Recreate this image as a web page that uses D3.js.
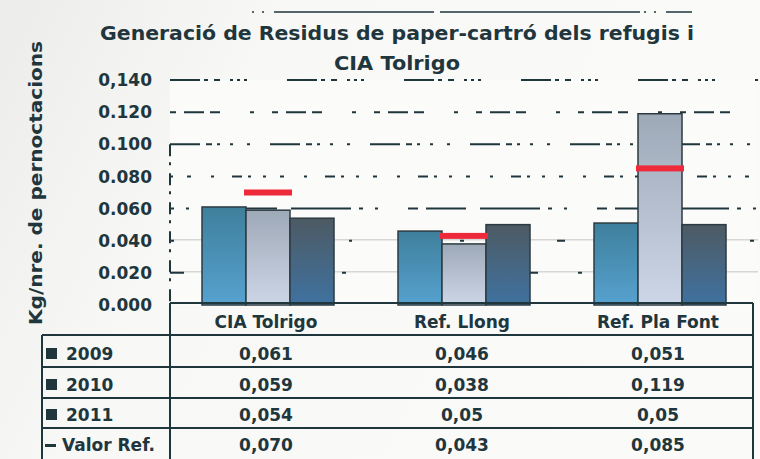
<!DOCTYPE html>
<html><head><meta charset="utf-8">
<script src="https://cdn.jsdelivr.net/npm/d3@7"></script>
<style>
html,body{margin:0;padding:0;background:#f8f8f6;}
svg{display:block;font-family:"DejaVu Sans",Verdana,sans-serif;}
</style></head>
<body><svg id="c" width="760" height="459"></svg>
<script>
const categories = ["CIA Tolrigo", "Ref. Llong", "Ref. Pla Font"];
const seriesNames = ["2009", "2010", "2011"];
const values2009 = [0.061, 0.046, 0.051];
const values2010 = [0.059, 0.038, 0.119];
const values2011 = [0.054, 0.05, 0.05];
const valorRef = [0.070, 0.043, 0.085];
const tableLabels2009 = ["0,061", "0,046", "0,051"];
const tableLabels2010 = ["0,059", "0,038", "0,119"];
const tableLabels2011 = ["0,054", "0,05", "0,05"];
const tableLabelsRef = ["0,070", "0,043", "0,085"];
const yTickValues = [0, 0.02, 0.04, 0.06, 0.08, 0.10, 0.12, 0.14];
const yTickLabels = ["0.000", "0.020", "0.040", "0.060", "0.080", "0.100", "0.120", "0,140"];
const titleLines = ["Generació de Residus de paper-cartró dels refugis i", "CIA Tolrigo"];
const yTitle = "Kg/nre. de pernoctacions";
const rowNames = ["2009", "2010", "2011", "Valor Ref."];

const ink = "#1f363d";
const svg = d3.select("#c");
const defs = svg.append("defs");
const grads = [
  ["g2009", "#3f7f9c", "#56a2cf"],
  ["g2010", "#9ea9b8", "#cdd6e6"],
  ["g2011", "#4d5a63", "#3f72a0"]
];
grads.forEach(([id, c0, c1]) => {
  const g = defs.append("linearGradient").attr("id", id).attr("x1", 0).attr("y1", 0).attr("x2", 0).attr("y2", 1);
  g.append("stop").attr("offset", "0%").attr("stop-color", c0);
  g.append("stop").attr("offset", "100%").attr("stop-color", c1);
});
const bg = defs.append("linearGradient").attr("id", "bg").attr("x1", 0).attr("y1", 0).attr("x2", 1).attr("y2", 0.3);
bg.append("stop").attr("offset", "0%").attr("stop-color", "#ececea");
bg.append("stop").attr("offset", "35%").attr("stop-color", "#f8f8f6");
bg.append("stop").attr("offset", "100%").attr("stop-color", "#fafaf9");
svg.append("rect").attr("width", 760).attr("height", 459).attr("fill", "url(#bg)");

const plotL = 170, plotR = 758, plotT = 80, plotB = 305;
const x = d3.scaleBand().domain(categories).range([plotL, plotR]).padding(0);
const x1 = d3.scaleBand().domain(seriesNames).range([32, x.bandwidth() - 32]).padding(0);
const y = d3.scaleLinear().domain([0, 0.14]).range([plotB, plotT]);

svg.append("rect").attr("x", plotL).attr("y", plotT).attr("width", plotR - plotL).attr("height", plotB - plotT).attr("fill", "#fbfbfa");

// top decorative border remnant
svg.append("line").attr("x1", 252).attr("x2", 692).attr("y1", 12).attr("y2", 12).attr("stroke", ink).attr("stroke-width", 1.5).attr("stroke-dasharray", "2,8,2,10,160,6,200,4");

// light gridlines
svg.append("g").selectAll("line").data([0.02, 0.04]).join("line")
  .attr("x1", plotL).attr("x2", plotR).attr("y1", d => y(d) - 1).attr("y2", d => y(d) - 1)
  .attr("stroke", "#d6d6d6").attr("stroke-width", 1.5);
// dark dashed gridlines
const dashFor = {
  0.02: "14,40,4,60",
  0.04: "4,30,3,60,8,40",
  0.06: "4,12,3,30,10,8,40,14,60,8",
  0.08: "3,14,4,20,3,18,10,6,3,12",
  0.10: "30,6,6,5,3,10,3,14,3,20",
  0.12: "6,8,20,6,10,30,4,18",
  0.14: "30,4,4,6,6,10,3,4,3,4,3,40"
};
svg.append("g").selectAll("line").data(yTickValues.filter(v => v > 0)).join("line")
  .attr("x1", plotL).attr("x2", plotR).attr("y1", d => y(d)).attr("y2", d => y(d))
  .attr("stroke", ink).attr("stroke-width", 2)
  .attr("stroke-dasharray", d => dashFor[d.toFixed(2).replace(/0$/, "")] || dashFor[d] || "6,8");

// left axis (dashed)
svg.append("line").attr("x1", plotL).attr("x2", plotL).attr("y1", y(0.1)).attr("y2", plotB)
  .attr("stroke", ink).attr("stroke-width", 2).attr("stroke-dasharray", "12,6,3,8");

// y tick labels
svg.append("g").selectAll("text").data(yTickValues).join("text")
  .attr("x", 152).attr("y", d => y(d)).attr("dy", "0.36em").attr("text-anchor", "end")
  .attr("font-size", 17).attr("fill", ink).attr("font-weight", "bold")
  .text((d, i) => yTickLabels[i]);

// bars
const seriesVals = [values2009, values2010, values2011];
const gradIds = ["g2009", "g2010", "g2011"];
const barG = svg.append("g");
seriesNames.forEach((s, si) => {
  barG.selectAll(null).data(categories).join("rect")
    .attr("x", c => x(c) + x1(s))
    .attr("y", (c, i) => y(seriesVals[si][i]))
    .attr("width", x1.bandwidth())
    .attr("height", (c, i) => y(0) - y(seriesVals[si][i]))
    .attr("fill", `url(#${gradIds[si]})`)
    .attr("stroke", "#2c3b42").attr("stroke-width", 1.5);
});

// reference markers
svg.append("g").selectAll("rect").data(categories).join("rect")
  .attr("x", c => x(c) + x1("2010") - 2)
  .attr("y", (c, i) => y(valorRef[i]) - 3)
  .attr("width", x1.bandwidth() + 4).attr("height", 6)
  .attr("fill", "#ee2a3a");

// titles
svg.append("text").attr("x", 397).attr("y", 40).attr("text-anchor", "middle")
  .attr("font-size", 19).attr("font-weight", "bold").attr("fill", ink)
  .attr("textLength", 594).attr("lengthAdjust", "spacingAndGlyphs").text(titleLines[0]);
svg.append("text").attr("x", 397).attr("y", 70).attr("text-anchor", "middle")
  .attr("font-size", 19).attr("font-weight", "bold").attr("fill", ink)
  .attr("textLength", 126).attr("lengthAdjust", "spacingAndGlyphs").text(titleLines[1]);

// y-axis title
svg.append("text").attr("transform", "translate(42,183) rotate(-90)").attr("text-anchor", "middle")
  .attr("font-size", 18).attr("font-weight", "bold").attr("fill", ink)
  .attr("textLength", 284).attr("lengthAdjust", "spacingAndGlyphs").text(yTitle);

// data table
const tL = 42, tM = 170, tR = 753;
const rowTops = [303, 335, 367, 398, 428, 460];
const tg = svg.append("g").attr("stroke", ink).attr("stroke-width", 2).attr("fill", "none");
tg.append("line").attr("x1", tM).attr("x2", tR).attr("y1", rowTops[0]).attr("y2", rowTops[0]);
rowTops.slice(1, 5).forEach(r => tg.append("line").attr("x1", tL).attr("x2", tR).attr("y1", r).attr("y2", r));
tg.append("line").attr("x1", tL).attr("x2", tL).attr("y1", rowTops[1]).attr("y2", 459);
tg.append("line").attr("x1", tM).attr("x2", tM).attr("y1", rowTops[0]).attr("y2", 459);
tg.append("line").attr("x1", tR).attr("x2", tR).attr("y1", rowTops[0]).attr("y2", 459);

const txt = svg.append("g").attr("font-size", 17).attr("font-weight", "bold").attr("fill", ink);
txt.selectAll(".cat").data(categories).join("text").attr("class", "cat")
  .attr("x", c => x(c) + x.bandwidth() / 2 - 2).attr("y", 328).attr("text-anchor", "middle").text(c => c);
const tableRows = [tableLabels2009, tableLabels2010, tableLabels2011, tableLabelsRef];
const baselines = [360, 391, 421, 451];
tableRows.forEach((row, ri) => {
  txt.selectAll(null).data(categories).join("text")
    .attr("x", c => x(c) + x.bandwidth() / 2 - 2).attr("y", baselines[ri]).attr("text-anchor", "middle")
    .text((c, i) => row[i]);
});
// legend column
rowNames.forEach((n, ri) => {
  if (ri < 3) {
    svg.append("rect").attr("x", 46).attr("y", baselines[ri] - 12).attr("width", 11).attr("height", 11).attr("fill", ink);
  } else {
    svg.append("rect").attr("x", 45).attr("y", baselines[ri] - 7).attr("width", 11).attr("height", 3).attr("fill", ink);
  }
  txt.append("text").attr("x", ri < 3 ? 66 : 62).attr("y", baselines[ri]).text(n);
});
</script></body></html>
